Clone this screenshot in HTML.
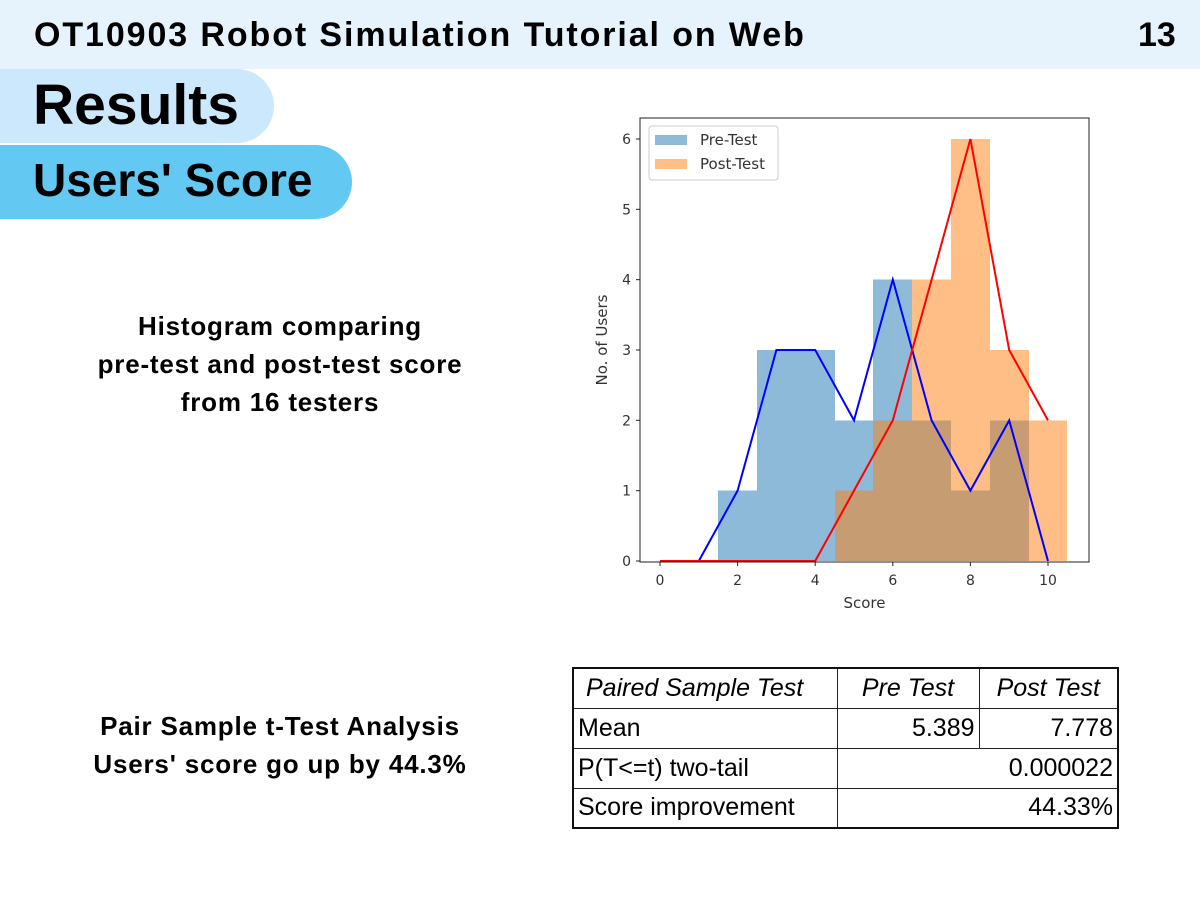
<!DOCTYPE html>
<html><head><meta charset="utf-8">
<style>
body{margin:0;width:1200px;height:900px;background:#fff;position:relative;overflow:hidden;font-family:"Liberation Sans",sans-serif}
.abs{position:absolute}
.cap{position:absolute;width:560px;left:0;text-align:center;font-weight:bold;font-size:26px;letter-spacing:0.8px;line-height:38px;color:#000}
table{border-collapse:collapse;font-family:"Liberation Sans",sans-serif;font-size:25px;border:2px solid #111}
td{border:1px solid #222;height:40px;padding:0 4px;box-sizing:border-box}
</style></head><body>
<div class="abs" style="left:0;top:0;width:1200px;height:69px;background:#e6f3fd"></div>
<div class="abs" style="left:34px;top:13px;font-size:34px;letter-spacing:1.9px;font-weight:bold;line-height:44px">OT10903 Robot Simulation Tutorial on Web</div>
<div class="abs" style="left:1138px;top:13px;font-size:34px;font-weight:bold;line-height:44px">13</div>
<div class="abs" style="left:0;top:69px;width:274px;height:74px;background:#cce8fc;border-radius:0 37px 37px 0"></div>
<div class="abs" style="left:33px;top:71px;font-size:57px;font-weight:bold;line-height:68px">Results</div>
<div class="abs" style="left:0;top:145px;width:352px;height:74px;background:#63c8f2;border-radius:0 37px 37px 0"></div>
<div class="abs" style="left:33px;top:151px;font-size:46px;font-weight:bold;line-height:58px">Users' Score</div>

<div class="cap" style="top:307px">Histogram comparing<br>pre-test and post-test score<br>from 16 testers</div>
<div class="cap" style="top:707px">Pair Sample t-Test Analysis<br>Users' score go up by 44.3%</div>

<svg class="abs" style="left:0;top:0" width="1200" height="900">
<g id="chart"></g>
</svg>

<table class="abs" style="left:572px;top:667px;width:547px">
<tr style="font-style:italic"><td style="width:264px;padding-left:12px">Paired Sample Test</td><td style="width:142px;text-align:center">Pre Test</td><td style="text-align:center">Post Test</td></tr>
<tr><td>Mean</td><td style="text-align:right">5.389</td><td style="text-align:right">7.778</td></tr>
<tr><td>P(T&lt;=t) two-tail</td><td colspan="2" style="text-align:right">0.000022</td></tr>
<tr><td>Score improvement</td><td colspan="2" style="text-align:right">44.33%</td></tr>
</table>

<script>
const scores=[0,1,2,3,4,5,6,7,8,9,10];
const preCounts=[0,0,1,3,3,2,4,2,1,2,0];
const postCounts=[0,0,0,0,0,1,2,4,6,3,2];
const xTicks=[0,2,4,6,8,10];
const yTicks=[0,1,2,3,4,5,6];
const X0=640,X1=1089,Y0=118,Y1=562;
const sx=v=>660+(v-0)*(1048-660)/10;
const sy=v=>561-v*(561-139)/6;
const NS="http://www.w3.org/2000/svg";
const g=document.getElementById('chart');
function mk(t,a){const e=document.createElementNS(NS,t);for(const k in a)e.setAttribute(k,a[k]);g.appendChild(e);return e;}
function bars(counts,color,name){
 const grp=mk('g',{opacity:0.5});
 counts.forEach((c,i)=>{if(c<=0)return;
  const r=document.createElementNS(NS,'rect');
  const xa=Math.round(sx(scores[i]-0.5)), xb=Math.round(sx(scores[i]+0.5));
  r.setAttribute('x',xa);r.setAttribute('y',sy(c));
  r.setAttribute('width',xb-xa);r.setAttribute('height',sy(0)-sy(c));
  r.setAttribute('fill',color);r.setAttribute('shape-rendering','crispEdges');
  
  
  grp.appendChild(r);
 });
}
bars(preCounts,'#1f77b4','pre-test');
bars(postCounts,'#ff7f0e','post-test');
function line(counts,color,name){
 const p=mk('polyline',{points:counts.map((c,i)=>sx(scores[i])+','+sy(c)).join(' '),fill:'none',stroke:color,'stroke-width':2});
 
 
}
line(preCounts,'#0000ff','pre-test-line');
line(postCounts,'#ff0000','post-test-line');
const fr=mk('rect',{x:X0,y:Y0,width:X1-X0,height:Y1-Y0,fill:'none',stroke:'#222','stroke-width':1});


xTicks.forEach(v=>{
 mk('line',{x1:sx(v),x2:sx(v),y1:Y1,y2:Y1+4,stroke:'#222'});
 const t=mk('text',{x:sx(v),y:Y1+23,'text-anchor':'middle','font-size':14,fill:'#333','font-family':'DejaVu Sans, sans-serif'});t.textContent=v;
 
 
});
yTicks.forEach(v=>{
 mk('line',{x1:X0-4,x2:X0,y1:sy(v),y2:sy(v),stroke:'#222'});
 const t=mk('text',{x:X0-9,y:sy(v)+5,'text-anchor':'end','font-size':14,fill:'#333','font-family':'DejaVu Sans, sans-serif'});t.textContent=v;
 
 
});
const xt=mk('text',{x:(X0+X1)/2,y:608,'text-anchor':'middle','font-size':15,fill:'#333','font-family':'DejaVu Sans, sans-serif'});xt.textContent='Score';


const yt=mk('text',{x:0,y:0,transform:'translate(607,340) rotate(-90)','text-anchor':'middle','font-size':15,fill:'#333','font-family':'DejaVu Sans, sans-serif'});yt.textContent='No. of Users';


const lg=mk('rect',{x:649,y:126,width:129,height:54,fill:'#fff',stroke:'#ccc',rx:3});


[['Pre-Test','#1f77b4',140],['Post-Test','#ff7f0e',164]].forEach(([n,c,y])=>{
 mk('rect',{x:655,y:y-5,width:32,height:10,fill:c,'fill-opacity':0.5});
 const t=mk('text',{x:700,y:y+5,'font-size':15,fill:'#333','font-family':'DejaVu Sans, sans-serif'});t.textContent=n;
 
 
});
</script>
</body></html>
